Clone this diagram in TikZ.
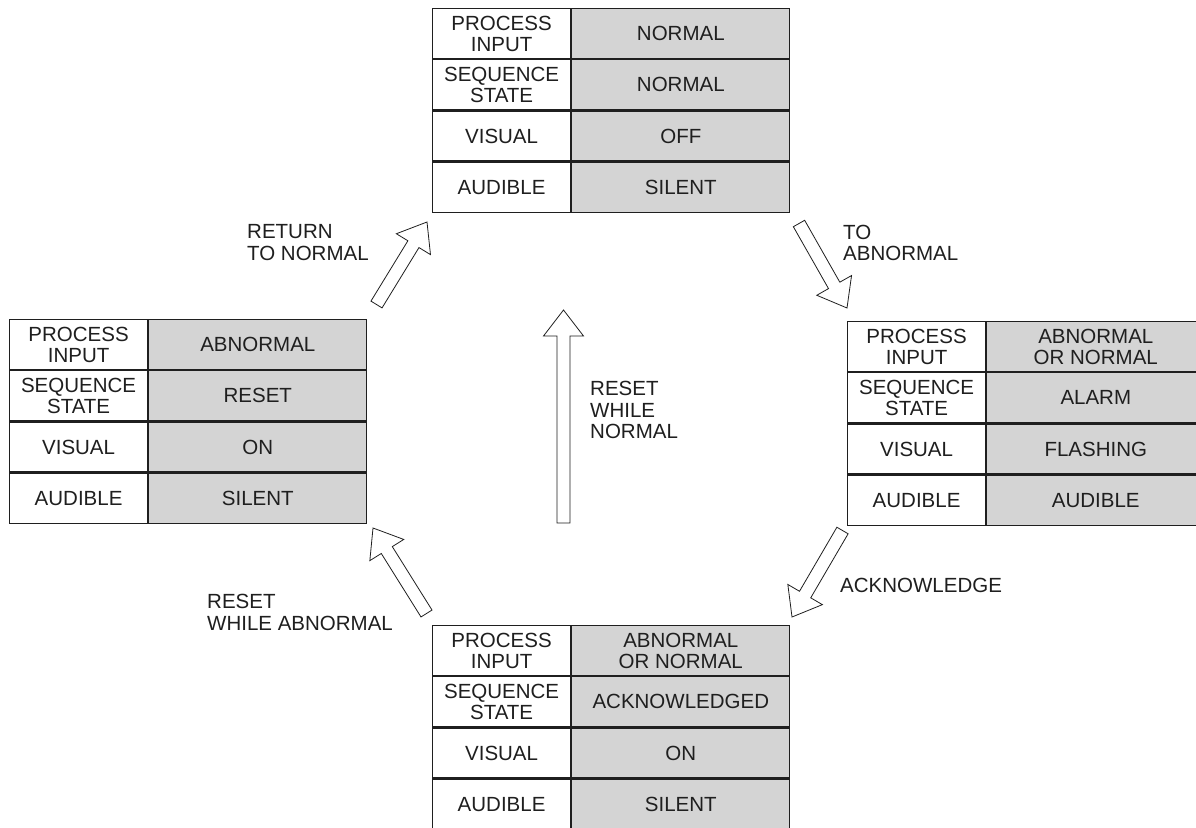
\documentclass[tikz,border=0pt]{standalone}
\usepackage{fontspec}
\setmainfont{Liberation Sans}
\usetikzlibrary{calc}
\definecolor{cellgray}{gray}{0.83}
\definecolor{ink}{gray}{0.12}
\tikzset{
  cell/.style={draw=ink, line width=1.2pt, inner sep=0pt, align=center, anchor=north west,
    text=ink, font=\fontsize{20.5}{21}\selectfont},
  lab/.style={cell, fill=white, minimum width=138pt, minimum height=50pt},
  val/.style={cell, fill=cellgray, minimum width=218pt, minimum height=50pt},
  trans/.style={inner sep=0pt, anchor=west, align=left, text=ink, font=\fontsize{20.5}{21.5}\selectfont},
  blockarrow/.style={draw=ink, line width=0.8pt, fill=white, line join=miter},
}
\newcommand\statetable[7]{%
  \node[lab] (#1-l1) at (#2,#3) {PROCESS\\INPUT};
  \node[val] (#1-v1) at (#1-l1.north east) {#4};
  \node[lab] (#1-l2) at (#1-l1.south west) {SEQUENCE\\STATE};
  \node[val] (#1-v2) at (#1-l2.north east) {#5};
  \node[lab] (#1-l3) at (#1-l2.south west) {VISUAL};
  \node[val] (#1-v3) at (#1-l3.north east) {#6};
  \node[lab] (#1-l4) at (#1-l3.south west) {AUDIBLE};
  \node[val] (#1-v4) at (#1-l4.north east) {#7};
}
\newcommand\hollowarrow[2]{%
  \coordinate (#1-h) at ($(#2)!26pt!(#1)$);
  \draw[blockarrow] ($(#1)!6.5pt!90:(#2)$) -- ($(#1-h)!6.5pt!90:(#2)$) -- ($(#1-h)!20pt!90:(#2)$)
    -- (#2) -- ($(#1-h)!20pt!-90:(#2)$) -- ($(#1-h)!6.5pt!-90:(#2)$) -- ($(#1)!6.5pt!-90:(#2)$) -- cycle;
}
\begin{document}
\begin{tikzpicture}[x=1pt, y=-1pt]
\fill[white] (0,0) rectangle (1196,827);
\useasboundingbox (0,0) rectangle (1196,827);
\clip (0,0) rectangle (1196,827);

\statetable{top}{432}{8}{NORMAL}{NORMAL}{OFF}{SILENT}
\statetable{lft}{9}{319}{ABNORMAL}{RESET}{ON}{SILENT}
\statetable{rgt}{847}{321}{ABNORMAL\\OR NORMAL}{ALARM}{FLASHING}{AUDIBLE}
\statetable{bot}{432}{625}{ABNORMAL\\OR NORMAL}{ACKNOWLEDGED}{ON}{SILENT}

\coordinate (rtn-t) at (376.5,304.5);
\coordinate (rtn-p) at (427,222);
\coordinate (rwn-t) at (563.5,523);
\coordinate (rwn-p) at (563.5,310);
\coordinate (rwa-t) at (426.5,613.5);
\coordinate (rwa-p) at (373,528);
\coordinate (tab-t) at (799,223.5);
\coordinate (tab-p) at (847,308);
\coordinate (ack-t) at (842.5,530.5);
\coordinate (ack-p) at (792,617);

\hollowarrow{rtn-t}{rtn-p}
\hollowarrow{rwn-t}{rwn-p}
\hollowarrow{rwa-t}{rwa-p}
\hollowarrow{tab-t}{tab-p}
\hollowarrow{ack-t}{ack-p}

\node[trans] (lrtn) at (247,242.5) {RETURN\\TO NORMAL};
\node[trans] (ltab) at (843,243) {TO\\ABNORMAL};
\node[trans] (lrwn) at (590,410) {RESET\\WHILE\\NORMAL};
\node[trans] (lrwa) at (207,612.5) {RESET\\WHILE ABNORMAL};
\node[trans] (lack) at (840,585) {ACKNOWLEDGE};
\end{tikzpicture}
\end{document}
